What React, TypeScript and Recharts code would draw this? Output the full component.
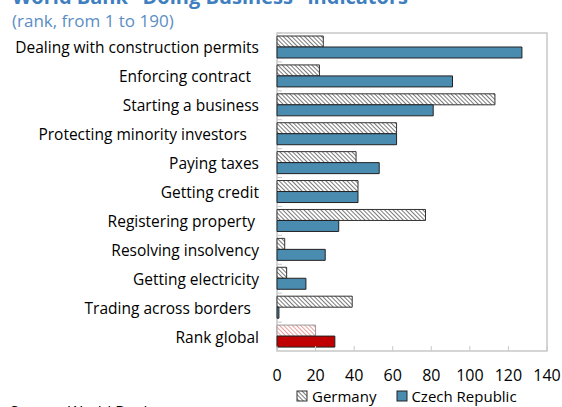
import React from "react";
import { BarChart, Bar, XAxis, YAxis, Cell, ReferenceArea, Legend } from "recharts";

const FONT = "'Open Sans', 'Noto Sans', sans-serif";

const categories = [
  "Dealing with construction permits",
  "Enforcing contract\u00a0\u00a0",
  "Starting a business",
  "Protecting minority investors\u00a0\u00a0\u00a0",
  "Paying taxes",
  "Getting credit",
  "Registering property\u00a0",
  "Resolving insolvency",
  "Getting electricity",
  "Trading across borders\u00a0\u00a0",
  "Rank global",
];
const germany = [24, 22, 113, 62, 41, 42, 77, 4, 5, 39, 20];
const czech = [127, 91, 81, 62, 53, 42, 32, 25, 15, 1, 30];
const xTicks = [0, 20, 40, 60, 80, 100, 120, 140];

const data = categories.map((name, i) => ({
  name,
  germany: germany[i],
  czech: czech[i],
}));

const BLUE = "#4a8bb0";
const RED = "#c00000";
const FRAME = "#c8c8c8";
const HALF_BAND = 318 / categories.length / 2;

function CategoryTick({ x, y, payload }: any) {
  return (
    <g>
      <line x1={x + 18} x2={x + 23} y1={y - HALF_BAND} y2={y - HALF_BAND} stroke={FRAME} />
      <text x={x} y={y} dy={6} textAnchor="end" fontSize={15.5} fontFamily={FONT} fill="#000" style={{ whiteSpace: "pre" }}>
        {payload.value}
      </text>
    </g>
  );
}

function ValueTick({ x, y, payload }: any) {
  return (
    <g>
      <line x1={x} x2={x} y1={y} y2={y - 5} stroke={FRAME} />
      <text x={x} y={y + 30} textAnchor="middle" fontSize={16} fontFamily={FONT} fill="#000">
        {payload.value}
      </text>
    </g>
  );
}

function LegendContent() {
  return (
    <div style={{ display: "flex", alignItems: "center", fontFamily: FONT, fontSize: 15, color: "#000" }}>
      <svg width={12} height={12} style={{ marginRight: 4 }}>
        <defs>
          <pattern id="hatchLegend" width={3} height={3} patternUnits="userSpaceOnUse" patternTransform="rotate(-45)">
            <line x1={0} y1={0} x2={0} y2={3} stroke="#222" strokeWidth={1.2} />
          </pattern>
        </defs>
        <rect x={1} y={1} width={10} height={10} fill="url(#hatchLegend)" stroke="#333" />
      </svg>
      <span style={{ marginRight: 20 }}>Germany</span>
      <svg width={12} height={12} style={{ marginRight: 3 }}>
        <rect x={1} y={1} width={10} height={10} fill={BLUE} stroke="#222" />
      </svg>
      <span>Czech Republic</span>
    </div>
  );
}

export default function App() {
  return (
    <div style={{ position: "absolute", left: 0, top: 0, width: 562, height: 407, overflow: "hidden", background: "#fff" }}>
      <div style={{ position: "absolute", left: 12, top: -13, lineHeight: 1, fontFamily: FONT, fontWeight: 700, fontSize: 20, color: "#3f7fbf", whiteSpace: "nowrap" }}>
        World Bank "Doing Business" indicators
      </div>
      <div style={{ position: "absolute", left: 12, top: 12, lineHeight: 1, fontFamily: FONT, fontSize: 17, color: "#5b8ec4", whiteSpace: "nowrap" }}>
        (rank, from 1 to 190)
      </div>
      <div style={{ position: "absolute", left: 10, top: 401, fontFamily: FONT, fontSize: 15.5, color: "#000", whiteSpace: "nowrap" }}>
        Source: World Bank
      </div>
      <BarChart
        width={562}
        height={407}
        data={data}
        layout="vertical"
        margin={{ top: 33, right: 15, bottom: 26, left: 0 }}
        barSize={11}
        barGap={0}
        style={{ position: "absolute", left: 0, top: 0 }}
      >
        <defs>
          <pattern id="hatchBlack" width={3} height={3} patternUnits="userSpaceOnUse" patternTransform="rotate(-45)">
            <rect width={3} height={3} fill="#fff" />
            <line x1={0} y1={0} x2={0} y2={3} stroke="#222" strokeWidth={1.2} />
          </pattern>
          <pattern id="hatchRed" width={3} height={3} patternUnits="userSpaceOnUse" patternTransform="rotate(-45)">
            <rect width={3} height={3} fill="#fff" />
            <line x1={0} y1={0} x2={0} y2={3} stroke="#e05a5a" strokeWidth={1.2} />
          </pattern>
        </defs>
        <XAxis
          type="number"
          domain={[0, 140]}
          ticks={xTicks}
          axisLine={false}
          tickLine={false}
          tickSize={0}
          tickMargin={0}
          height={30}
          tick={<ValueTick />}
          interval={0}
        />
        <YAxis
          type="category"
          dataKey="name"
          width={277}
          axisLine={false}
          tickLine={false}
          tickSize={0}
          tickMargin={18}
          tick={<CategoryTick />}
          interval={0}
        />
        <ReferenceArea x1={0} x2={140} fill="none" stroke={FRAME} strokeWidth={1.5} fillOpacity={0} />
        <Bar dataKey="germany" name="Germany" fill="url(#hatchBlack)" stroke="#333" strokeWidth={1} isAnimationActive={false}>
          {data.map((d, i) => (
            <Cell
              key={d.name}
              fill={i === data.length - 1 ? "url(#hatchRed)" : "url(#hatchBlack)"}
              stroke={i === data.length - 1 ? "#999" : "#333"}
            />
          ))}
        </Bar>
        <Bar dataKey="czech" name="Czech Republic" fill={BLUE} stroke="#222" strokeWidth={1} isAnimationActive={false}>
          {data.map((d, i) => (
            <Cell key={d.name} fill={i === data.length - 1 ? RED : BLUE} stroke="#222" />
          ))}
        </Bar>
        <Legend
          layout="horizontal"
          verticalAlign="middle"
          align="center"
          content={<LegendContent />}
          wrapperStyle={{ top: 386, left: 296, width: "auto" }}
        />
      </BarChart>
    </div>
  );
}
